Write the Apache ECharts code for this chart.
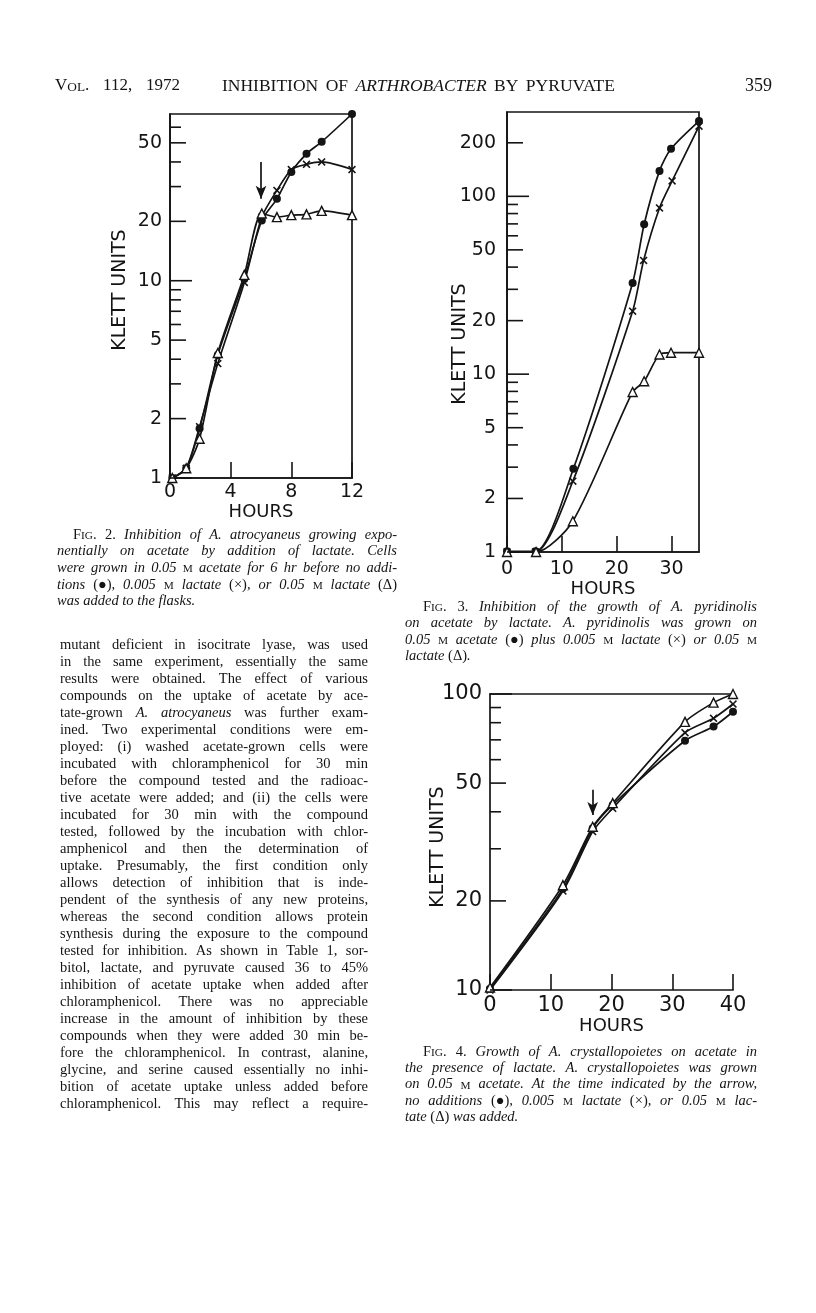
<!DOCTYPE html>
<html>
<head>
<meta charset="utf-8">
<script src="https://cdn.jsdelivr.net/npm/echarts@6/dist/echarts.min.js"></script>
<style>
  html, body { margin: 0; padding: 0; background: #fff; }
  #page { width: 816px; height: 1313px; }
</style>
</head>
<body>
<div id="page"></div>
<script>
// ---- Fig. 2: A. atrocyaneus on acetate, lactate added at 6 hr ----
const fig2Hours = [0.15, 1.07, 1.95, 3.15, 4.9, 6.05, 7.05, 8.0, 9.0, 10.0, 12.0];
const fig2NoAddition = [1.0, 1.12, 1.78, 4.2, 10.2, 20.2, 26, 35.6, 44, 50.6, 70];
const fig2Lactate005 = [1.0, 1.12, 1.82, 3.8, 9.8, 21, 28.7, 36.6, 38.9, 40, 36.6];
const fig2Lactate05 = [1.0, 1.12, 1.58, 4.3, 10.7, 21.9, 21.0, 21.5, 21.7, 22.6, 21.5];
const fig2Arrow = [6, 40, 26]; // hour, from, to
const fig2YTicks = [1, 2, 3, 4, 5, 6, 7, 8, 9, 10, 20, 30, 40, 50, 60];
const fig2YLabels = [1, 2, 5, 10, 20, 50];

// ---- Fig. 3: A. pyridinolis ----
const fig3HoursDot = [0, 5.2, 12.1, 22.9, 25.0, 27.8, 29.9, 35];
const fig3Acetate = [1.01, 1.01, 2.94, 32.6, 69.6, 139, 185, 265];
const fig3HoursX = [0, 5.2, 12.0, 22.9, 24.9, 27.8, 30.1, 35];
const fig3Lactate005 = [1.0, 1.0, 2.5, 22.6, 43.6, 86, 122, 248];
const fig3HoursTri = [0, 5.3, 12.0, 22.9, 25.0, 27.8, 29.9, 35];
const fig3Lactate05 = [1.0, 1.0, 1.49, 7.94, 9.12, 12.9, 13.2, 13.2];
const fig3YTicks = [1, 2, 3, 4, 5, 6, 7, 8, 9, 10, 20, 30, 40, 50, 60, 70, 80, 90, 100, 200];
const fig3YLabels = [1, 2, 5, 10, 20, 50, 100, 200];

// ---- Fig. 4: A. crystallopoietes ----
const fig4Hours = [0, 12, 16.9, 20.2, 32.1, 36.8, 40];
const fig4NoAddition = [10.1, 22.0, 35.2, 42.2, 69.5, 77.6, 87.1];
const fig4Lactate005 = [10.0, 21.6, 34.3, 41.1, 74, 82.8, 92.5];
const fig4Lactate05 = [10.2, 22.6, 35.6, 42.8, 80.5, 93.5, 100];
const fig4Arrow = [16.9, 47.5, 39];
const fig4YTicks = [10, 20, 30, 40, 50, 60, 70, 80, 90, 100];
const fig4YLabels = [10, 20, 50, 100];

// ---- page text ----
const cap2Lines = [
  "[s:Fig.] [r:2.] Inhibition of A. atrocyaneus growing expo-",
  "nentially on acetate by addition of lactate. Cells",
  "were grown in 0.05 [s:m] acetate for 6 hr before no addi-",
  "tions [r:(●)], 0.005 [s:m] lactate [r:(×)], or 0.05 [s:m] lactate [r:(Δ)]",
  "was added to the flasks."
];
const cap3Lines = [
  "[s:Fig.] [r:3.] Inhibition of the growth of A. pyridinolis",
  "on acetate by lactate. A. pyridinolis was grown on",
  "0.05 [s:m] acetate [r:(●)] plus 0.005 [s:m] lactate [r:(×)] or 0.05 [s:m]",
  "lactate [r:(Δ)]."
];
const cap4Lines = [
  "[s:Fig.] [r:4.] Growth of A. crystallopoietes on acetate in",
  "the presence of lactate. A. crystallopoietes was grown",
  "on 0.05 [s:m] acetate. At the time indicated by the arrow,",
  "no additions [r:(●)], 0.005 [s:m] lactate [r:(×)], or 0.05 [s:m] lac-",
  "tate [r:(Δ)] was added."
];
const bodyLines = [
  "mutant deficient in isocitrate lyase, was used",
  "in the same experiment, essentially the same",
  "results were obtained. The effect of various",
  "compounds on the uptake of acetate by ace-",
  "tate-grown [i:A.] [i:atrocyaneus] was further exam-",
  "ined. Two experimental conditions were em-",
  "ployed: (i) washed acetate-grown cells were",
  "incubated with chloramphenicol for 30 min",
  "before the compound tested and the radioac-",
  "tive acetate were added; and (ii) the cells were",
  "incubated for 30 min with the compound",
  "tested, followed by the incubation with chlor-",
  "amphenicol and then the determination of",
  "uptake. Presumably, the first condition only",
  "allows detection of inhibition that is inde-",
  "pendent of the synthesis of any new proteins,",
  "whereas the second condition allows protein",
  "synthesis during the exposure to the compound",
  "tested for inhibition. As shown in Table 1, sor-",
  "bitol, lactate, and pyruvate caused 36 to 45%",
  "inhibition of acetate uptake when added after",
  "chloramphenicol. There was no appreciable",
  "increase in the amount of inhibition by these",
  "compounds when they were added 30 min be-",
  "fore the chloramphenicol. In contrast, alanine,",
  "glycine, and serine caused essentially no inhi-",
  "bition of acetate uptake unless added before",
  "chloramphenicol. This may reflect a require-"
];

const INK = '#141414';
const SANS = '"DejaVu Sans", sans-serif';
const SERIF = '"Liberation Serif", "DejaVu Serif", serif';
const crossSymbol = 'path://M0,1.4L1.4,0L5,3.6L8.6,0L10,1.4L6.4,5L10,8.6L8.6,10L5,6.4L1.4,10L0,8.6L3.6,5Z';

function pairs(xs, ys) {
  return xs.map((x, i) => [x, ys[i]]);
}

// one curve of a figure
function curve(name, gi, data, kind) {
  const s = {
    type: 'line', name: name, xAxisIndex: gi, yAxisIndex: gi, data: data,
    smooth: 0.25, clip: false,
    lineStyle: { color: INK, width: 1.7 },
    symbolKeepAspect: true, z: 3
  };
  if (kind === 'dot') {
    s.symbol = 'circle'; s.symbolSize = 8;
    s.itemStyle = { color: INK };
  } else if (kind === 'cross') {
    s.symbol = crossSymbol; s.symbolSize = 8;
    s.itemStyle = { color: INK };
  } else {
    s.symbol = 'triangle'; s.symbolSize = 9; s.z = 4;
    s.itemStyle = { color: '#fff', borderColor: INK, borderWidth: 1.4 };
  }
  return s;
}

function arrowLine(arrow) {
  return {
    silent: true, symbol: ['none', 'arrow'], symbolSize: [8, 13],
    lineStyle: { color: INK, width: 1.7, type: 'solid' },
    label: { show: false }, emphasis: { disabled: true },
    data: [[{ coord: [arrow[0], arrow[1]] }, { coord: [arrow[0], arrow[2]] }]]
  };
}

// log-paper ticks and labels on the left axis
function logTicks(gi, ticks, labels, margin, fontSize) {
  return {
    type: 'custom', xAxisIndex: gi, yAxisIndex: gi, silent: true, clip: false, z: 5,
    data: ticks.map(v => [0, v]),
    renderItem: function (params, api) {
      const v = api.value(1);
      const p = api.coord([api.value(0), v]);
      const lg = Math.log10(v);
      const decade = Math.abs(lg - Math.round(lg)) < 1e-9;
      const labeled = labels.indexOf(v) >= 0;
      const len = decade ? 22 : (labeled ? 16 : 11);
      const children = [{
        type: 'line',
        shape: { x1: p[0], y1: p[1], x2: p[0] + len, y2: p[1] },
        style: { stroke: INK, lineWidth: 1.6 }
      }];
      if (labeled) {
        children.push({
          type: 'text', x: p[0] - margin, y: p[1],
          style: { text: String(v), align: 'right', verticalAlign: 'middle',
                   fontFamily: SANS, fontSize: fontSize, fill: INK }
        });
      }
      return { type: 'group', children: children };
    }
  };
}

function xAxisOf(gi, max, interval, gap, fontSize, margin, showMax) {
  return {
    type: 'value', gridIndex: gi, min: 0, max: max, interval: interval,
    axisLine: { lineStyle: { color: INK, width: 1.7 } },
    axisTick: { inside: true, length: 16, lineStyle: { color: INK, width: 1.6 } },
    axisLabel: { fontFamily: SANS, fontSize: fontSize, color: INK, margin: margin,
                 showMinLabel: true, showMaxLabel: showMax },
    splitLine: { show: false },
    name: 'HOURS', nameLocation: 'middle', nameGap: gap,
    nameTextStyle: { fontFamily: SANS, fontSize: 18, color: INK }
  };
}

function yAxisOf(gi, min, max, gap, pad) {
  return {
    type: 'log', logBase: 10, gridIndex: gi, min: min, max: max,
    axisLine: { show: true, lineStyle: { color: INK, width: 1.7 } },
    axisTick: { show: false }, axisLabel: { show: false }, splitLine: { show: false },
    name: 'KLETT UNITS', nameLocation: 'middle', nameRotate: 90, nameGap: gap,
    nameTextStyle: { fontFamily: SANS, fontSize: 19, color: INK, padding: pad }
  };
}

// ---- text set word by word, justified like the printed page ----
const measureCtx = document.createElement('canvas').getContext('2d');
function textWidth(t, font) {
  measureCtx.font = font;
  return measureCtx.measureText(t).width;
}
function wordPieces(word, def, size) {
  const out = [];
  const re = /\[([ris]):([^\]]*)\]|([^\[]+)/g;
  let m;
  while ((m = re.exec(word))) {
    const st = m[1] || def;
    const t = m[1] ? m[2] : m[3];
    if (st === 's') {
      let run = '', small = null;
      for (const ch of t) {
        const isSmall = ch !== ch.toUpperCase();
        if (small !== null && isSmall !== small) { out.push(capPiece(run, small, size)); run = ''; }
        run += isSmall ? ch.toUpperCase() : ch;
        small = isSmall;
      }
      if (run) out.push(capPiece(run, small, size));
    } else {
      out.push({ text: t, font: (st === 'i' ? 'italic ' : '') + size + 'px ' + SERIF, rise: 0 });
    }
  }
  out.forEach(p => { p.w = textWidth(p.text, p.font); });
  return out;
}
function capPiece(run, small, size) {
  const s = small ? Math.round(size * 0.78 * 10) / 10 : size;
  return { text: run, font: s + 'px ' + SERIF, rise: small ? 0.3 * (size - s) : 0 };
}
function textBlock(b) {
  const els = [];
  const space = textWidth(' ', b.size + 'px ' + SERIF);
  b.lines.forEach((line, i) => {
    const words = line.split(' ').map(w => wordPieces(w, b.def, b.size));
    const widths = words.map(ps => ps.reduce((a, p) => a + p.w, 0));
    const total = widths.reduce((a, w) => a + w, 0);
    const x0 = b.x + (i === 0 ? (b.indent || 0) : 0);
    const W = b.w - (x0 - b.x);
    const last = b.lastFree && i === b.lines.length - 1;
    let gap = space;
    if (!last && words.length > 1) gap = Math.max((W - total) / (words.length - 1), space * 0.45);
    let x = x0;
    const y = b.y + i * b.pitch;
    words.forEach((ps, k) => {
      ps.forEach(p => {
        els.push({ type: 'text', x: x, y: y + p.rise, silent: true,
                   style: { text: p.text, font: p.font, fill: INK, align: 'left', verticalAlign: 'middle' } });
        x += p.w;
      });
      x += gap;
    });
  });
  return els;
}

const graphics = [].concat(
  textBlock({ x: 55, w: 125, y: 86, pitch: 0, size: 17, def: 'r', lines: ["[s:Vol.] 112, 1972"] }),
  textBlock({ x: 222, w: 393, y: 86, pitch: 0, size: 17.5, def: 'r', lines: ["INHIBITION OF [i:ARTHROBACTER] BY PYRUVATE"] }),
  textBlock({ x: 745, w: 40, y: 86, pitch: 0, size: 18, def: 'r', lastFree: true, lines: ["359"] }),
  textBlock({ x: 57, w: 340, y: 535, pitch: 16.6, size: 14.5, def: 'i', indent: 16, lastFree: true, lines: cap2Lines }),
  textBlock({ x: 405, w: 352, y: 607, pitch: 16.4, size: 14.5, def: 'i', indent: 18, lastFree: true, lines: cap3Lines }),
  textBlock({ x: 405, w: 352, y: 1052, pitch: 16.3, size: 14.5, def: 'i', indent: 18, lastFree: true, lines: cap4Lines }),
  textBlock({ x: 60, w: 308, y: 645, pitch: 17, size: 14.5, def: 'r', lastFree: false, lines: bodyLines })
);

const frame = { show: true, borderColor: INK, borderWidth: 1.7, backgroundColor: 'transparent' };

const option = {
  backgroundColor: '#fff',
  animation: false,
  grid: [
    Object.assign({ left: 170, top: 114, width: 182, height: 364 }, frame),
    Object.assign({ left: 507, top: 112, width: 192, height: 440 }, frame),
    { left: 490, top: 694, width: 243, height: 296, show: false }
  ],
  xAxis: [
    xAxisOf(0, 12, 4, 24, 19, 5, true),
    xAxisOf(1, 35, 10, 27, 19, 8, false),
    xAxisOf(2, 40, 10, 22, 21, 5, true),
    { type: 'value', gridIndex: 2, position: 'top', min: 0, max: 40,
      axisLine: { lineStyle: { color: INK, width: 1.7 } },
      axisTick: { show: false }, axisLabel: { show: false }, splitLine: { show: false } }
  ],
  yAxis: [
    yAxisOf(0, 1, 70, 40, [0, 0, 0, 12]),
    yAxisOf(1, 1, 298, 37, [0, 24, 0, 0]),
    yAxisOf(2, 10, 100, 42, [0, 10, 0, 0])
  ],
  series: [
    logTicks(0, fig2YTicks, fig2YLabels, 8, 19),
    logTicks(1, fig3YTicks, fig3YLabels, 11, 19),
    logTicks(2, fig4YTicks, fig4YLabels, 8, 21),

    Object.assign(curve('no additions', 0, pairs(fig2Hours, fig2NoAddition), 'dot'), { markLine: arrowLine(fig2Arrow) }),
    curve('0.005 M lactate', 0, pairs(fig2Hours, fig2Lactate005), 'cross'),
    curve('0.05 M lactate', 0, pairs(fig2Hours, fig2Lactate05), 'tri'),

    curve('0.05 M acetate', 1, pairs(fig3HoursDot, fig3Acetate), 'dot'),
    curve('plus 0.005 M lactate', 1, pairs(fig3HoursX, fig3Lactate005), 'cross'),
    curve('or 0.05 M lactate', 1, pairs(fig3HoursTri, fig3Lactate05), 'tri'),

    Object.assign(curve('no additions', 2, pairs(fig4Hours, fig4NoAddition), 'dot'), { markLine: arrowLine(fig4Arrow) }),
    curve('0.005 M lactate', 2, pairs(fig4Hours, fig4Lactate005), 'cross'),
    curve('0.05 M lactate', 2, pairs(fig4Hours, fig4Lactate05), 'tri')
  ],
  graphic: { elements: graphics }
};

const chart = echarts.init(document.getElementById('page'));
chart.setOption(option);
</script>
</body>
</html>
